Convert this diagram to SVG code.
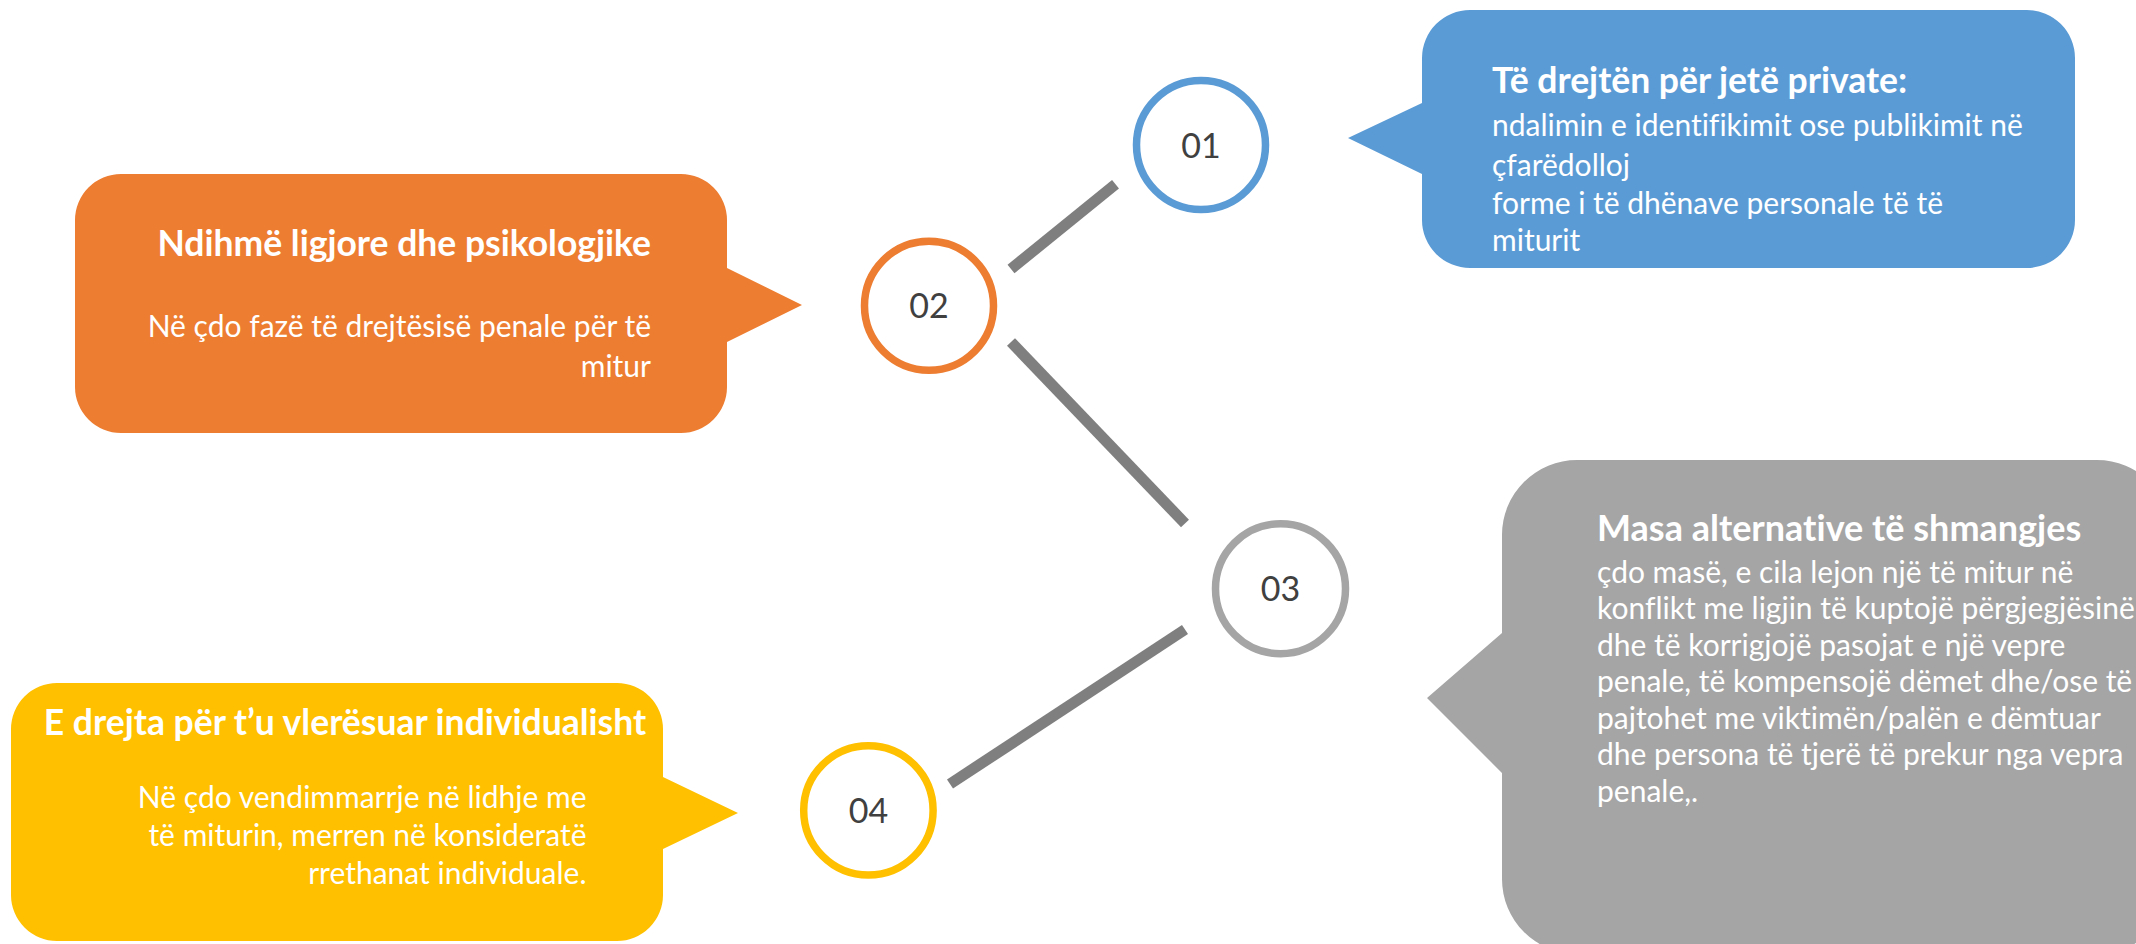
<svg xmlns="http://www.w3.org/2000/svg" width="2136" height="944" viewBox="0 0 2136 944">
<style>
.t{font-family:Lato,"Open Sans","Liberation Sans",sans-serif;fill:#fff;font-size:30px;font-variant-ligatures:none}
.b{font-weight:bold;font-size:35.5px}
.bg{font-size:36px}
.r{text-anchor:end}
.c{text-anchor:middle}
.n{font-family:Lato,"Open Sans","Liberation Sans",sans-serif;font-size:34px;fill:#404040;text-anchor:middle}
.ring{fill:#fff;stroke-width:7.5}
.conn line{stroke:#7F7F7F;stroke-width:11}
</style>
<rect width="2136" height="944" fill="#fff"/>
<g id="connectors" class="conn">
<line x1="1011" y1="269" x2="1115.5" y2="184.3"/>
<line x1="1011" y1="342" x2="1185" y2="523.5"/>
<line x1="950" y1="784" x2="1185" y2="629.5"/>
</g>
<g id="node01">
<circle class="ring" cx="1201" cy="145" r="64.5" stroke="#5B9BD5"/>
<text class="n" x="1201" y="157.5">01</text>
</g>
<g id="node02">
<circle class="ring" cx="929" cy="305.7" r="64.5" stroke="#ED7D31"/>
<text class="n" x="929" y="318">02</text>
</g>
<g id="node03">
<circle class="ring" cx="1280.5" cy="588.7" r="65" stroke="#A5A5A5"/>
<text class="n" x="1280.5" y="601">03</text>
</g>
<g id="node04">
<circle class="ring" cx="868.4" cy="810.4" r="64.7" stroke="#FFC000"/>
<text class="n" x="868.4" y="823">04</text>
</g>
<g id="callout01">
<path fill="#5B9BD5" d="M1470,10 H2027 A48,48 0 0 1 2075,58 V220 A48,48 0 0 1 2027,268 H1470 A48,48 0 0 1 1422,220 V174 L1348,138 L1422,103 V58 A48,48 0 0 1 1470,10 Z"/>
<text class="t b" x="1492" y="93">Të drejtën për jetë private:</text>
<text class="t" x="1492" y="136">ndalimin e identifikimit ose publikimit në</text>
<text class="t" x="1492" y="175.5">çfarëdolloj</text>
<text class="t" x="1492" y="213.5">forme i të dhënave personale të të</text>
<text class="t" x="1492" y="251">miturit</text>
</g>
<g id="callout02">
<path fill="#ED7D31" d="M121,174 H681 A46,46 0 0 1 727,220 V268 L802,305 L727,342 V387 A46,46 0 0 1 681,433 H121 A46,46 0 0 1 75,387 V220 A46,46 0 0 1 121,174 Z"/>
<text class="t b r" x="651" y="256">Ndihmë ligjore dhe psikologjike</text>
<text class="t r" x="651" y="336.5">Në çdo fazë të drejtësisë penale për të</text>
<text class="t r" x="651" y="376.5">mitur</text>
</g>
<g id="callout03">
<path fill="#A5A5A5" d="M1577,460 H2097 A75,75 0 0 1 2172,535 V879 A75,75 0 0 1 2097,954 H1577 A75,75 0 0 1 1502,879 V773 L1427,698 L1502,633 V535 A75,75 0 0 1 1577,460 Z"/>
<text class="t b bg" x="1597" y="540.5">Masa alternative të shmangjes</text>
<text class="t" x="1597" y="582.5">çdo masë, e cila lejon një të mitur në</text>
<text class="t" x="1597" y="619">konflikt me ligjin të kuptojë përgjegjësinë</text>
<text class="t" x="1597" y="655.5">dhe të korrigjojë pasojat e një vepre</text>
<text class="t" x="1597" y="692">penale, të kompensojë dëmet dhe/ose të</text>
<text class="t" x="1597" y="728.5">pajtohet me viktimën/palën e dëmtuar</text>
<text class="t" x="1597" y="765">dhe persona të tjerë të prekur nga vepra</text>
<text class="t" x="1597" y="801.5">penale,.</text>
</g>
<g id="callout04">
<path fill="#FFC000" d="M57,683 H617 A46,46 0 0 1 663,729 V777 L738,813 L663,849 V895 A46,46 0 0 1 617,941 H57 A46,46 0 0 1 11,895 V729 A46,46 0 0 1 57,683 Z"/>
<text class="t b c" x="345" y="735">E drejta për t’u vlerësuar individualisht</text>
<text class="t r" x="586.5" y="807.5">Në çdo vendimmarrje në lidhje me</text>
<text class="t r" x="586.5" y="845.5">të miturin, merren në konsideratë</text>
<text class="t r" x="586.5" y="884">rrethanat individuale.</text>
</g>
</svg>
